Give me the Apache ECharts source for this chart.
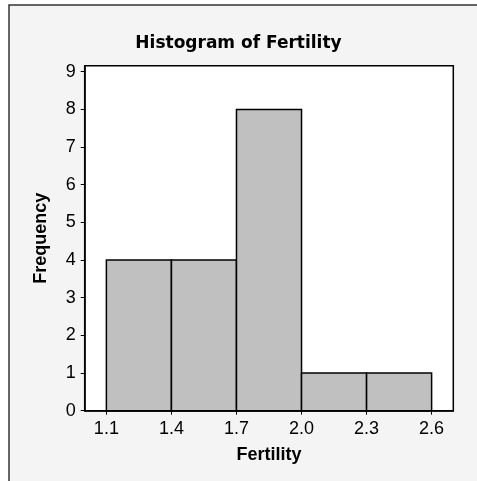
<!DOCTYPE html>
<html>
<head>
<meta charset="utf-8">
<script src="https://cdn.jsdelivr.net/npm/echarts@6/dist/echarts.min.js"></script>
<style>
  html, body { margin: 0; padding: 0; background: #fff; }
  #myChart { width: 477px; height: 481px; }
</style>
</head>
<body>
<div id="myChart"></div>
<script>
	// histogram bins: [start, end) and counts
	var binStart = [1.1, 1.4, 1.7, 2.0, 2.3];
	var binEnd = [1.4, 1.7, 2.0, 2.3, 2.6];
	var counts = [4, 4, 8, 1, 1];
	var xTicks = [1.1, 1.4, 1.7, 2.0, 2.3, 2.6];
	var yTicks = [0, 1, 2, 3, 4, 5, 6, 7, 8, 9];

	var myChart = echarts.init(document.getElementById('myChart'));

	var bins = [];
	for (var i = 0; i < counts.length; i++) {
		bins.push([binStart[i], binEnd[i], counts[i]]);
	}

	function renderBin(params, api) {
		var p0 = api.coord([api.value(0), api.value(2)]);
		var p1 = api.coord([api.value(1), 0]);
		return {
			type: 'rect',
			shape: { x: p0[0], y: p0[1], width: p1[0] - p0[0], height: p1[1] - p0[1] },
			style: { fill: '#c0c0c0', stroke: '#000', lineWidth: 1.5 }
		};
	}

	var option = {
		backgroundColor: '#fff',
		animation: false,
		graphic: [{
			type: 'rect',
			shape: { x: 9, y: 5, width: 500, height: 500 },
			style: { fill: '#f4f4f4', stroke: '#333', lineWidth: 1.5 },
			z: -10
		}],
		title: {
			text: 'Histogram of Fertility',
			left: 'center',
			top: 30,
			textStyle: { fontFamily: 'DejaVu Sans', fontWeight: 'bold', fontSize: 17, color: '#000' }
		},
		grid: {
			left: 84.7, top: 65.7, right: 23.7, bottom: 70.3,
			show: true, backgroundColor: '#fff', borderColor: '#000', borderWidth: 1.5
		},
		xAxis: {
			type: 'value',
			min: 1.0,
			max: 2.7,
			name: 'Fertility',
			nameLocation: 'middle',
			nameGap: 35,
			nameTextStyle: { fontFamily: 'Liberation Sans', fontWeight: 'bold', fontSize: 18, color: '#000' },
			splitLine: { show: false },
			axisLine: { show: true, lineStyle: { color: '#000', width: 1.5 } },
			axisTick: { show: true, length: 4, customValues: xTicks, lineStyle: { color: '#000' } },
			axisLabel: {
				customValues: xTicks, margin: 9,
				fontFamily: 'Liberation Sans', fontSize: 18, color: '#000',
				formatter: function (v) { return v.toFixed(1); }
			}
		},
		yAxis: {
			type: 'value',
			min: 0,
			max: 9.16,
			name: 'Frequency',
			nameLocation: 'middle',
			nameGap: 35,
			nameTextStyle: { fontFamily: 'Liberation Sans', fontWeight: 'bold', fontSize: 18, color: '#000' },
			splitLine: { show: false },
			axisLine: { show: true, lineStyle: { color: '#000', width: 1.5 } },
			axisTick: { show: true, length: 4, customValues: yTicks, lineStyle: { color: '#000' } },
			axisLabel: {
				customValues: yTicks, margin: 9,
				fontFamily: 'Liberation Sans', fontSize: 18, color: '#000'
			}
		},
		series: [{
			type: 'custom',
			renderItem: renderBin,
			encode: { x: [0, 1], y: 2 },
			data: bins
		}]
	};

	myChart.setOption(option);
</script>
</body>
</html>
